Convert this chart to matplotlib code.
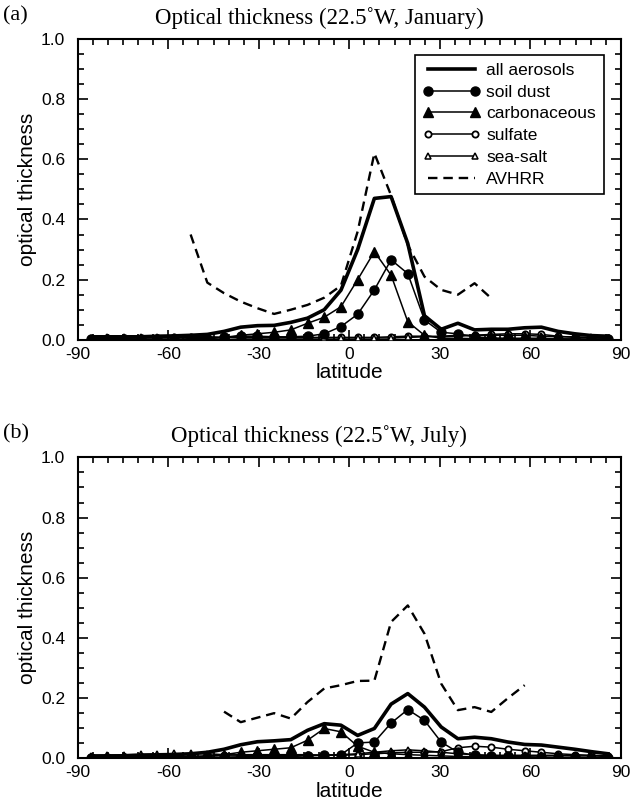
import numpy as np
import matplotlib.pyplot as plt
from matplotlib.ticker import MultipleLocator

plt.rcParams['font.family'] = ['Liberation Sans', 'DejaVu Sans']
plt.rcParams['axes.unicode_minus'] = False

# T21 gaussian latitudes of the model grid
lats = [-85.76, -80.27, -74.75, -69.21, -63.68, -58.14, -52.61, -47.07,
        -41.53, -36.00, -30.46, -24.92, -19.39, -13.85, -8.31, -2.77,
        2.77, 8.31, 13.85, 19.39, 24.92, 30.46, 36.00, 41.53,
        47.07, 52.61, 58.14, 63.68, 69.21, 74.75, 80.27, 85.76]

# (a) January
all_a = [0.010, 0.010, 0.010, 0.010, 0.012, 0.013, 0.015, 0.018, 0.028, 0.042, 0.047, 0.048,
         0.058, 0.072, 0.100, 0.165, 0.300, 0.470, 0.476, 0.320, 0.080, 0.035, 0.055, 0.033,
         0.035, 0.035, 0.040, 0.042, 0.028, 0.020, 0.014, 0.012]
dust_a = [0.002, 0.002, 0.002, 0.002, 0.002, 0.002, 0.003, 0.004, 0.008, 0.012, 0.012, 0.010,
          0.010, 0.012, 0.020, 0.044, 0.085, 0.166, 0.266, 0.220, 0.066, 0.025, 0.020, 0.010,
          0.006, 0.005, 0.004, 0.004, 0.003, 0.003, 0.002, 0.002]
carb_a = [0.001, 0.001, 0.001, 0.001, 0.002, 0.002, 0.003, 0.004, 0.008, 0.015, 0.020, 0.025,
          0.033, 0.055, 0.075, 0.110, 0.200, 0.293, 0.215, 0.060, 0.015, 0.005, 0.005, 0.004,
          0.004, 0.004, 0.005, 0.005, 0.003, 0.002, 0.001, 0.001]
sulf_a = [0.003, 0.004, 0.005, 0.006, 0.007, 0.008, 0.008, 0.008, 0.008, 0.008, 0.008, 0.008,
          0.008, 0.008, 0.008, 0.008, 0.008, 0.008, 0.010, 0.012, 0.012, 0.010, 0.012, 0.015,
          0.018, 0.020, 0.020, 0.018, 0.012, 0.008, 0.006, 0.005]
salt_a = [0.006, 0.008, 0.010, 0.010, 0.010, 0.010, 0.010, 0.010, 0.008, 0.006, 0.006, 0.006,
          0.006, 0.006, 0.006, 0.006, 0.006, 0.006, 0.006, 0.008, 0.010, 0.012, 0.015, 0.015,
          0.015, 0.015, 0.015, 0.012, 0.010, 0.010, 0.008, 0.006]
avhrr_lat_a = lats[6:25]
avhrr_a = [0.35, 0.19, 0.155, 0.127, 0.105, 0.086, 0.10, 0.116, 0.14, 0.18,
           0.36, 0.62, 0.48, 0.315, 0.21, 0.166, 0.15, 0.188, 0.138]

# (b) July
all_b = [0.008, 0.008, 0.008, 0.009, 0.010, 0.012, 0.015, 0.020, 0.030, 0.045, 0.055, 0.058,
         0.062, 0.093, 0.115, 0.110, 0.076, 0.099, 0.180, 0.215, 0.170, 0.104, 0.065, 0.070,
         0.065, 0.054, 0.046, 0.044, 0.037, 0.030, 0.022, 0.015]
dust_b = [0.002, 0.002, 0.002, 0.002, 0.002, 0.002, 0.003, 0.003, 0.004, 0.005, 0.006, 0.006,
          0.006, 0.008, 0.010, 0.012, 0.051, 0.054, 0.117, 0.162, 0.126, 0.054, 0.020, 0.010,
          0.008, 0.006, 0.005, 0.004, 0.003, 0.003, 0.002, 0.002]
carb_b = [0.001, 0.001, 0.001, 0.001, 0.002, 0.003, 0.004, 0.006, 0.012, 0.020, 0.025, 0.030,
          0.035, 0.060, 0.099, 0.088, 0.040, 0.020, 0.015, 0.012, 0.010, 0.008, 0.006, 0.005,
          0.005, 0.004, 0.004, 0.003, 0.003, 0.002, 0.002, 0.001]
sulf_b = [0.003, 0.003, 0.004, 0.004, 0.005, 0.006, 0.007, 0.008, 0.010, 0.012, 0.012, 0.012,
          0.012, 0.012, 0.010, 0.010, 0.012, 0.015, 0.018, 0.020, 0.020, 0.022, 0.035, 0.040,
          0.037, 0.030, 0.025, 0.020, 0.015, 0.012, 0.010, 0.008]
salt_b = [0.008, 0.010, 0.012, 0.014, 0.015, 0.016, 0.016, 0.015, 0.012, 0.010, 0.010, 0.010,
          0.010, 0.010, 0.010, 0.012, 0.015, 0.020, 0.025, 0.028, 0.025, 0.020, 0.015, 0.012,
          0.010, 0.010, 0.010, 0.010, 0.010, 0.008, 0.008, 0.006]
avhrr_lat_b = lats[8:27]
avhrr_b = [0.155, 0.12, 0.135, 0.15, 0.132, 0.187, 0.232, 0.243, 0.257, 0.258,
           0.453, 0.508, 0.414, 0.248, 0.16, 0.17, 0.154, 0.20, 0.243]

titles = ['Optical thickness (22.5\u02daW, January)', 'Optical thickness (22.5\u02daW, July)']
tags = ['(a)', '(b)']
serif = ['Liberation Serif', 'DejaVu Serif']

AX_LEFT, AX_W = 0.122, 0.851


def draw(ax, allv, dust, carb, sulf, salt, alat, avhrr, title, tag, legend=False):
    ax.plot(lats, allv, color='k', lw=2.6, label='all aerosols', zorder=5)
    ax.plot(lats, dust, color='k', lw=1.1, marker='o', ms=6.5, mfc='k', label='soil dust', zorder=4)
    ax.plot(lats, carb, color='k', lw=1.1, marker='^', ms=7, mfc='k', label='carbonaceous', zorder=4)
    ax.plot(lats, sulf, color='k', lw=1.1, marker='o', ms=4.5, mfc='white', mew=1.3,
            label='sulfate', zorder=3)
    ax.plot(lats, salt, color='k', lw=1.1, marker='^', ms=5, mfc='white', mew=1.1,
            label='sea-salt', zorder=3)
    ax.plot(alat, avhrr, color='k', lw=1.7, ls=(0, (4, 2.5)), label='AVHRR', zorder=2)

    ax.set_xlim(-90, 90)
    ax.set_ylim(0, 1)
    ax.xaxis.set_major_locator(MultipleLocator(30))
    ax.xaxis.set_minor_locator(MultipleLocator(5))
    ax.yaxis.set_major_locator(MultipleLocator(0.2))
    ax.yaxis.set_minor_locator(MultipleLocator(0.05))
    ax.yaxis.set_major_formatter(lambda v, p: f'{v:.1f}')
    ax.tick_params(which='both', direction='in', top=True, right=True, labelsize=12.5, width=1.2)
    ax.tick_params(which='major', length=7)
    ax.tick_params(which='minor', length=4)
    ax.tick_params(axis='x', pad=5)
    ax.tick_params(axis='y', pad=9)
    for s in ax.spines.values():
        s.set_linewidth(1.5)
    ax.set_xlabel('latitude', fontsize=15, labelpad=1)
    ax.set_ylabel('optical thickness', fontsize=15, labelpad=3)
    # title is centred on the page, not on the axes
    ax.set_title(title, fontsize=16.5, family=serif, pad=11, x=(0.5 - AX_LEFT) / AX_W)
    ax.text(-0.138, 1.045, tag, transform=ax.transAxes, fontsize=16, family=serif, va='bottom')
    if legend:
        leg = ax.legend(loc='upper right', bbox_to_anchor=(0.969, 0.947), borderaxespad=0,
                        fontsize=12.5, numpoints=2, handlelength=3.3, handletextpad=0.35,
                        labelspacing=0.38, borderpad=0.45, fancybox=False, framealpha=1,
                        edgecolor='k')
        leg.get_frame().set_linewidth(1.2)


fig = plt.figure(figsize=(6.38, 8.11), dpi=100)
ax1 = fig.add_axes([AX_LEFT, 0.581, AX_W, 0.371])
ax2 = fig.add_axes([AX_LEFT, 0.065, AX_W, 0.371])
draw(ax1, all_a, dust_a, carb_a, sulf_a, salt_a, avhrr_lat_a, avhrr_a, titles[0], tags[0], legend=True)
draw(ax2, all_b, dust_b, carb_b, sulf_b, salt_b, avhrr_lat_b, avhrr_b, titles[1], tags[1])

fig.savefig('out.png', dpi=100)
